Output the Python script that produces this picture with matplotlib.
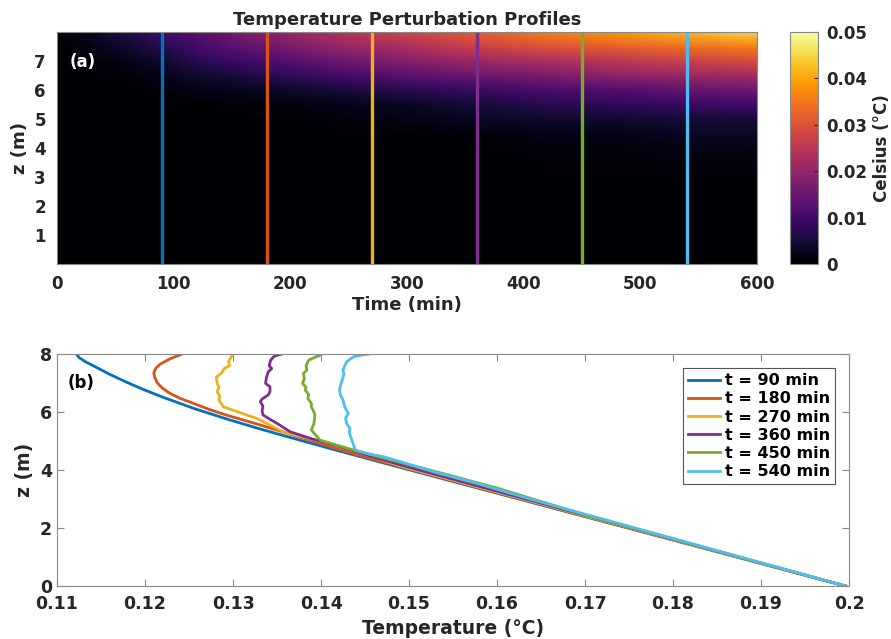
import numpy as np
import matplotlib
matplotlib.use("Agg")
import matplotlib.pyplot as plt

plt.rcParams["font.family"] = "DejaVu Sans"
plt.rcParams["font.weight"] = "bold"
plt.rcParams["axes.labelweight"] = "bold"
plt.rcParams["axes.titleweight"] = "bold"
plt.rcParams["text.color"] = "#262626"
plt.rcParams["axes.labelcolor"] = "#262626"
plt.rcParams["xtick.color"] = "#262626"
plt.rcParams["ytick.color"] = "#262626"

# perturbation field (deg C), rows = heights, columns = times
field_times = [0, 30, 60, 90, 120, 150, 180, 240, 300, 360, 420, 480, 540, 600]
field_heights = [0, 3, 4, 4.5, 5, 5.5, 6, 6.5, 7, 7.5, 8]
field_vals = [
    [0, 0, 0, 0, 0, 0, 0, 0, 0, 0, 0, 0, 0, 0],
    [0, 0, 0, 0, 0, 0, 0, 0, 0, 0, 0, 0, 0, 0],
    [0, 0, 0, 0, 0, 0, 0, 0, 0, 0, 0.001, 0.001, 0.002, 0.002],
    [0, 0, 0, 0, 0, 0, 0, 0, 0, 0.001, 0.002, 0.002, 0.003, 0.003],
    [0, 0, 0, 0, 0, 0, 0, 0.001, 0.002, 0.003, 0.004, 0.004, 0.005, 0.005],
    [0, 0, 0, 0, 0, 0.001, 0.001, 0.002, 0.003, 0.005, 0.007, 0.008, 0.009, 0.010],
    [0, 0, 0, 0.001, 0.002, 0.002, 0.003, 0.005, 0.007, 0.009, 0.011, 0.012, 0.014, 0.015],
    [0, 0, 0.001, 0.002, 0.004, 0.005, 0.007, 0.010, 0.013, 0.015, 0.017, 0.019, 0.021, 0.022],
    [0, 0.001, 0.002, 0.004, 0.007, 0.009, 0.011, 0.015, 0.018, 0.021, 0.023, 0.025, 0.027, 0.029],
    [0, 0.002, 0.004, 0.007, 0.010, 0.013, 0.015, 0.020, 0.023, 0.027, 0.030, 0.032, 0.034, 0.036],
    [0, 0.003, 0.006, 0.010, 0.013, 0.016, 0.019, 0.024, 0.028, 0.032, 0.036, 0.039, 0.042, 0.045],
]

profile_times = [90, 180, 270, 360, 450, 540]
profile_colors = ["#0072BD", "#D95319", "#EDB120", "#7E2F8E", "#77AC30", "#4DBEEE"]

# temperature profiles (T in deg C, z in m)
T_90 = [0.1122, 0.1125, 0.1132, 0.1141, 0.1160, 0.1179, 0.1198, 0.1217, 0.1255,
        0.1293, 0.1327, 0.1376, 0.1430, 0.1490, 0.1996]
z_90 = [8.0, 7.88, 7.74, 7.60, 7.30, 7.03, 6.78, 6.55, 6.13, 5.76, 5.45, 5.03,
        4.58, 4.09, 0.0]

T_180 = [0.1242, 0.1236, 0.1228, 0.1217, 0.1212, 0.1210, 0.1211, 0.1214, 0.1220,
         0.1228, 0.1240, 0.1255, 0.1273, 0.1293, 0.1327, 0.1365, 0.1430, 0.1490,
         0.1996]
z_180 = [8.0, 7.93, 7.83, 7.65, 7.5, 7.35, 7.2, 7.0, 6.82, 6.65, 6.47, 6.30, 6.09,
         5.89, 5.59, 5.24, 4.62, 4.12, 0.0]

T_270 = [0.1300, 0.1298, 0.1295, 0.1296, 0.1290, 0.1287, 0.1281, 0.1282, 0.1284,
         0.1282, 0.1285, 0.1284, 0.1287, 0.1289, 0.1327, 0.1357, 0.1400, 0.1450,
         0.1490, 0.1996]
z_270 = [8.0, 7.9, 7.75, 7.6, 7.5, 7.35, 7.2, 7.0, 6.85, 6.7, 6.55, 6.4, 6.28,
         6.18, 5.78, 5.32, 4.98, 4.55, 4.14, 0.0]

T_360 = [0.1355, 0.1347, 0.1343, 0.1341, 0.1344, 0.1340, 0.1338, 0.1337, 0.1342,
         0.1342, 0.1340, 0.1333, 0.1331, 0.1334, 0.1333, 0.1334, 0.1342, 0.1350,
         0.1365, 0.1388, 0.1422, 0.1452, 0.1490, 0.1996]
z_360 = [8.0, 7.93, 7.8, 7.6, 7.5, 7.39, 7.2, 6.99, 6.87, 6.7, 6.59, 6.45, 6.36,
         6.2, 6.05, 5.90, 5.75, 5.61, 5.32, 5.09, 4.80, 4.52, 4.18, 0.0]

T_450 = [0.1401, 0.1398, 0.1390, 0.1386, 0.1383, 0.1384, 0.1380, 0.1381, 0.1379,
         0.1383, 0.1382, 0.1386, 0.1385, 0.1389, 0.1389, 0.1392, 0.1393, 0.1392,
         0.1389, 0.1399, 0.1437, 0.1470, 0.1520, 0.1600, 0.1700, 0.1996]
z_450 = [8.0, 7.95, 7.85, 7.79, 7.6, 7.45, 7.33, 7.15, 6.99, 6.85, 6.76, 6.6, 6.47,
         6.3, 6.18, 6.0, 5.9, 5.61, 5.38, 5.03, 4.69, 4.42, 4.03, 3.38, 2.45, 0.0]

T_540 = [0.1454, 0.1447, 0.1437, 0.1432, 0.1429, 0.1427, 0.1425, 0.1426, 0.1424,
         0.1422, 0.1421, 0.1422, 0.1425, 0.1427, 0.1431, 0.1428, 0.1429, 0.1433,
         0.1432, 0.1435, 0.1439, 0.1452, 0.1471, 0.1490, 0.1528, 0.1584, 0.1641,
         0.1713, 0.1996]
z_540 = [8.0, 7.97, 7.91, 7.8, 7.73, 7.6, 7.45, 7.3, 7.10, 6.9, 6.76, 6.59, 6.41,
         6.18, 5.95, 5.8, 5.6, 5.44, 5.3, 5.03, 4.69, 4.57, 4.46, 4.29, 3.94, 3.48,
         2.97, 2.37, 0.0]

profiles = [(T_90, z_90), (T_180, z_180), (T_270, z_270),
            (T_360, z_360), (T_450, z_450), (T_540, z_540)]

fig = plt.figure(figsize=(8.91, 6.39), dpi=100)

# (a) time-height perturbation map
ax1 = fig.add_axes([0.064, 0.587, 0.7856, 0.363])
tt, zz = np.meshgrid(field_times, field_heights)
mesh = ax1.pcolormesh(tt, zz, np.array(field_vals), cmap="inferno",
                      vmin=0, vmax=0.05, shading="gouraud")
for t, c in zip(profile_times, profile_colors):
    ax1.axvline(t, color=c, lw=2.4)
ax1.set_xlim(0, 600)
ax1.set_ylim(0, 8)
ax1.set_xticks(range(0, 601, 100))
ax1.set_yticks(range(1, 8))
ax1.tick_params(labelsize=12, length=0, pad=8)
ax1.set_xlabel("Time (min)", fontsize=13, labelpad=2)
ax1.set_ylabel("z (m)", fontsize=13, labelpad=4)
ax1.set_title("Temperature Perturbation Profiles", fontsize=13, pad=5)
ax1.text(0.018, 0.87, "(a)", transform=ax1.transAxes, color="white",
         fontsize=12, fontweight="bold", va="center")
for s in ax1.spines.values():
    s.set_color("#888888")

cax = fig.add_axes([0.8866, 0.587, 0.0314, 0.363])
cbar = fig.colorbar(mesh, cax=cax)
cbar_ticks = [0, 0.01, 0.02, 0.03, 0.04, 0.05]
cbar.set_ticks(cbar_ticks)
cbar.set_ticklabels(["0", "0.01", "0.02", "0.03", "0.04", "0.05"])
cbar.ax.tick_params(labelsize=12, length=3, direction="in", pad=6)
cbar.set_label("Celsius (°C)", fontsize=12)
cbar.ax.yaxis.set_label_coords(2.96, 0.5)
cbar.outline.set_edgecolor("#888888")

# (b) vertical temperature profiles
ax2 = fig.add_axes([0.064, 0.0829, 0.8889, 0.363])
for (T, z), t, c in zip(profiles, profile_times, profile_colors):
    ax2.plot(T, z, color=c, lw=2, label=f"t = {t} min")
ax2.set_xlim(0.11, 0.2)
ax2.set_ylim(0, 8)
xt = [0.11, 0.12, 0.13, 0.14, 0.15, 0.16, 0.17, 0.18, 0.19, 0.2]
ax2.set_xticks(xt)
ax2.set_xticklabels(["0.11", "0.12", "0.13", "0.14", "0.15", "0.16",
                     "0.17", "0.18", "0.19", "0.2"])
ax2.set_yticks([0, 2, 4, 6, 8])
ax2.tick_params(labelsize=12.5, direction="in", top=True, right=True,
                length=5, color="#888888")
ax2.tick_params(axis="x", pad=6.5)
ax2.set_xlabel("Temperature (°C)", fontsize=13.5, labelpad=4.5)
ax2.set_ylabel("z (m)", fontsize=13.5, labelpad=4)
ax2.text(0.013, 0.875, "(b)", transform=ax2.transAxes, color="black",
         fontsize=12, fontweight="bold", va="center")
for s in ax2.spines.values():
    s.set_color("#888888")
leg = ax2.legend(loc="upper right", handlelength=2.0, handletextpad=0.3,
                 borderaxespad=0.9, borderpad=0.3, fancybox=False, framealpha=1,
                 labelspacing=0.2, prop={"size": 11.5, "weight": "bold"})
for txt in leg.get_texts():
    txt.set_color("black")
leg.get_frame().set_edgecolor("#555555")
leg.get_frame().set_linewidth(0.8)

fig.savefig("out.png", dpi=100)
